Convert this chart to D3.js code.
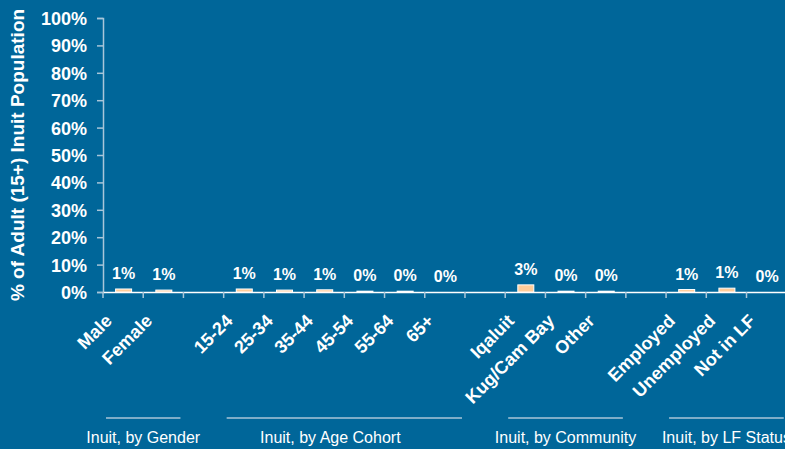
<!DOCTYPE html>
<html>
<head>
<meta charset="utf-8">
<script src="https://cdn.jsdelivr.net/npm/d3@7"></script>
<style>
  html, body { margin: 0; padding: 0; background: #006699; }
  svg { display: block; font-family: Arial, "Liberation Sans", sans-serif; }
</style>
</head>
<body>
<div id="chart"></div>
<script>
// categories, blanks are the gaps between groups
var categories = ["Male", "Female", "", "15-24", "25-34", "35-44", "45-54", "55-64", "65+", " ",
                  "Iqaluit", "Kug/Cam Bay", "Other", "  ", "Employed", "Unemployed", "Not in LF"];
var values = [1.1, 0.7, null, 1.1, 0.7, 0.8, 0.3, 0.3, 0.0, null,
              2.6, 0.3, 0.3, null, 0.9, 1.4, 0.0];
var valueLabels = ["1%", "1%", "", "1%", "1%", "1%", "0%", "0%", "0%", "",
                   "3%", "0%", "0%", "", "1%", "1%", "0%"];
var groups = [
  {name: "Inuit, by Gender", first: "Male", last: "Female"},
  {name: "Inuit, by Age Cohort", first: "15-24", last: "65+"},
  {name: "Inuit, by Community", first: "Iqaluit", last: "Other"},
  {name: "Inuit, by LF Status", first: "Employed", last: "Not in LF"}
];
var yTicks = [0, 10, 20, 30, 40, 50, 60, 70, 80, 90, 100];

var width = 785, height = 449;
var svg = d3.select("#chart").append("svg")
    .attr("width", width)
    .attr("height", height);

var x = d3.scaleBand().domain(categories).range([103, 103 + 40.22 * categories.length]);
var y = d3.scaleLinear().domain([0, 100]).range([292, 18]);

// y axis
var yAxis = svg.append("g")
    .attr("transform", "translate(103,0)")
    .call(d3.axisLeft(y).tickValues(yTicks).tickSize(6).tickFormat(function(d){ return d + "%"; }));
yAxis.select(".domain").attr("stroke", "#a9c6d9").attr("stroke-width", 1.5);
yAxis.selectAll(".tick line").attr("stroke", "#a9c6d9").attr("stroke-width", 1.5);
yAxis.selectAll(".tick text")
    .attr("fill", "#fff")
    .attr("x", -16)
    .attr("dy", "0.36em")
    .style("font-size", "18px")
    .style("font-weight", "bold");

// x axis
var xAxis = svg.append("g")
    .attr("transform", "translate(0,292)")
    .call(d3.axisBottom(x).tickSize(0).tickFormat(""));
xAxis.select(".domain").attr("stroke", "#fff").attr("stroke-width", 1.5);
xAxis.selectAll(".tick").remove();

var edges = categories.map(function(c){ return x(c); });
edges.push(x.range()[1]);
svg.selectAll(".xtick").data(edges).enter().append("line")
    .attr("x1", function(d){ return d; })
    .attr("x2", function(d){ return d; })
    .attr("y1", 292).attr("y2", 298)
    .attr("stroke", "#a9c6d9").attr("stroke-width", 1.5);

// bars
var bw = 16;
var data = categories.map(function(c, i){ return {cat: c, v: values[i], label: valueLabels[i]}; })
    .filter(function(d){ return d.v !== null; });

svg.selectAll(".bar").data(data).enter().append("rect")
    .attr("x", function(d){ return x(d.cat) + x.bandwidth() / 2 - bw / 2 + 0.5; })
    .attr("y", function(d){ return y(d.v); })
    .attr("width", bw)
    .attr("height", function(d){ return y(0) - y(d.v); })
    .attr("fill", "#ffcc99")
    .attr("stroke", "#fff")
    .attr("stroke-width", 1);

svg.selectAll(".vlabel").data(data).enter().append("text")
    .attr("x", function(d){ return x(d.cat) + x.bandwidth() / 2 + 0.5; })
    .attr("y", function(d){ return y(d.v) - 10; })
    .attr("text-anchor", "middle")
    .attr("fill", "#fff")
    .style("font-size", "16px")
    .style("font-weight", "bold")
    .text(function(d){ return d.label; });

// category labels
svg.selectAll(".xlabel").data(data).enter().append("text")
    .attr("transform", function(d){
      return "translate(" + (x(d.cat) + x.bandwidth() / 2 - 10) + ",322) rotate(-45)";
    })
    .attr("text-anchor", "end")
    .attr("fill", "#fff")
    .style("font-size", "18px")
    .style("font-weight", "bold")
    .text(function(d){ return d.cat; });

// group brackets
var g = svg.selectAll(".grp").data(groups).enter().append("g");
g.append("line")
    .attr("x1", function(d){ return x(d.first) + 3; })
    .attr("x2", function(d){ return x(d.last) + x.bandwidth() - 3; })
    .attr("y1", 418).attr("y2", 418)
    .attr("stroke", "#a9c6d9").attr("stroke-width", 1.5);
g.append("text")
    .attr("x", function(d, i){ return (x(d.first) + x(d.last) + x.bandwidth()) / 2 - (i === 1 ? 14 : 0); })
    .attr("y", 443)
    .attr("text-anchor", "middle")
    .attr("fill", "#fff")
    .style("font-size", "16px")
    .text(function(d){ return d.name; });

// y title
svg.append("text")
    .attr("transform", "translate(24,155) rotate(-90)")
    .attr("text-anchor", "middle")
    .attr("fill", "#fff")
    .style("font-size", "19px")
    .style("font-weight", "bold")
    .text("% of Adult (15+) Inuit Population");
</script>
</body>
</html>
